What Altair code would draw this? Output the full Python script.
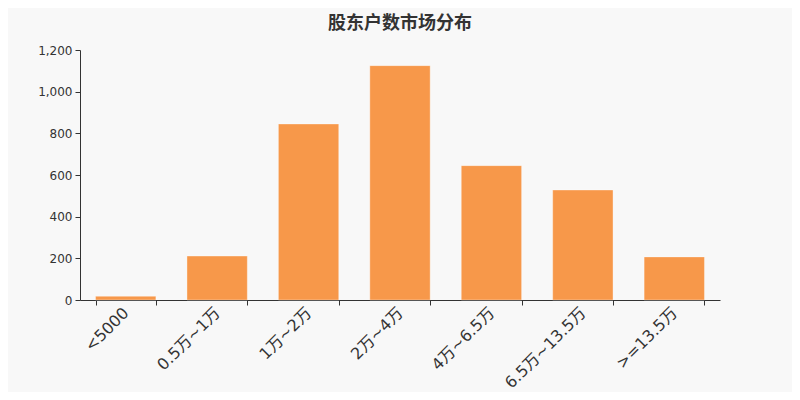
import altair as alt
import pandas as pd

categories = ["<5000", "0.5万~1万", "1万~2万", "2万~4万", "4万~6.5万", "6.5万~13.5万", ">=13.5万"]
values = [18, 211, 845, 1125, 645, 528, 207]

df = pd.DataFrame({"cat": categories, "val": values})

FONT = "DejaVu Sans, Noto Sans CJK SC, sans-serif"

chart = alt.Chart(df).mark_bar(
    color="#f7984a", stroke="#ffffff", strokeOpacity=0.35, strokeWidth=1
).encode(
    x=alt.X("cat:N", sort=categories, title=None,
            scale=alt.Scale(paddingInner=0.34, paddingOuter=0.17),
            axis=alt.Axis(labelAngle=-45, labelFontSize=16, labelColor="#333333",
                          labelFont=FONT, labelAlign="right", labelBaseline="middle",
                          domainColor="#333333", tickColor="#333333",
                          tickSize=5, tickBand="extent", labelPadding=5)),
    y=alt.Y("val:Q", title=None,
            scale=alt.Scale(domain=[0, 1200]),
            axis=alt.Axis(values=[0, 200, 400, 600, 800, 1000, 1200], format=",d",
                          labelFontSize=12, labelColor="#333333", labelFont=FONT,
                          domainColor="#333333", tickColor="#333333", tickSize=5,
                          grid=False, labelPadding=3)),
).properties(
    width=640, height=250,
    title=alt.TitleParams("股东户数市场分布", fontSize=18, fontWeight="bold",
                          color="#333333", font="Noto Sans CJK SC", anchor="middle",
                          offset=11),
    padding={"left": 72, "top": 42, "right": 72, "bottom": 92},
    autosize=alt.AutoSizeParams(type="none"),
    background="#f8f8f8",
).configure_view(stroke=None)

chart.save("out.html", embed_options={"renderer": "svg", "actions": False})
